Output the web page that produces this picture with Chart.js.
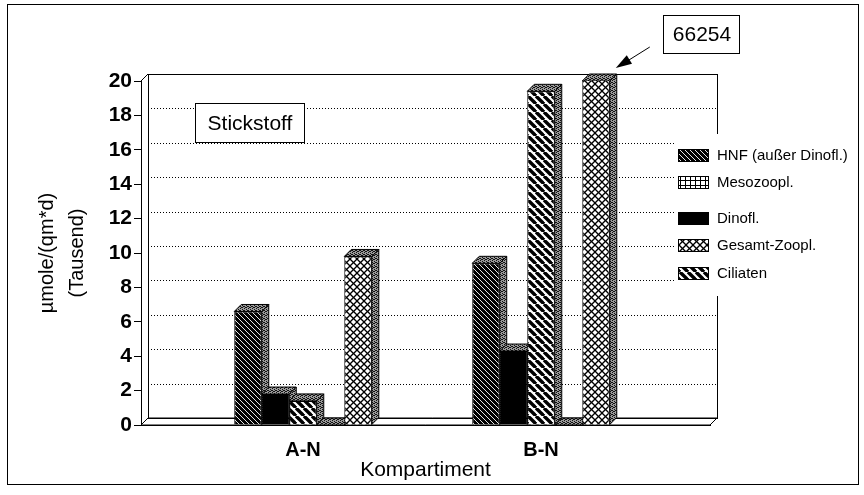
<!DOCTYPE html>
<html>
<head>
<meta charset="utf-8">
<script src="https://cdn.jsdelivr.net/npm/chart.js@4.4.1/dist/chart.umd.min.js"></script>
<style>
  html, body { margin: 0; padding: 0; background: #fff; }
</style>
</head>
<body>
<canvas id="stickstoffChart" width="864" height="495"></canvas>
<script>
// Werte in Tausend umole/(qm*d)
const kompartimente = ['A-N', 'B-N'];
const hnf = [6.6, 9.4];
const dinofl = [1.8, 4.3];
const ciliaten = [1.4, 19.4];
const mesozoopl = [0, 0];
const gesamtZoopl = [9.8, 66.254];
const yTicks = [0, 2, 4, 6, 8, 10, 12, 14, 16, 18, 20];
const legendOrder = ['HNF (außer Dinofl.)', 'Mesozoopl.', 'Dinofl.', 'Gesamt-Zoopl.', 'Ciliaten'];

const FONT = '"Liberation Sans", Arial, sans-serif';
const DEPTH = 7;

Chart.defaults.font.family = FONT;
Chart.defaults.color = '#000';

const canvas = document.getElementById('stickstoffChart');
const ctx = canvas.getContext('2d');

// Schraffuren
function makePattern(size, draw) {
    const c = document.createElement('canvas');
    c.width = size;
    c.height = size;
    draw(c.getContext('2d'), size);
    return ctx.createPattern(c, 'repeat');
}

function diagonals(g, s, dir) {
    for (let k = -1; k <= 1; k++) {
        g.beginPath();
        if (dir > 0) {
            g.moveTo(k * s, 0);
            g.lineTo(k * s + s, s);
        } else {
            g.moveTo(k * s + s, 0);
            g.lineTo(k * s, s);
        }
        g.stroke();
    }
}

const patHnf = makePattern(5, (g, s) => {
    g.fillStyle = '#000';
    g.fillRect(0, 0, s, s);
    g.strokeStyle = '#fff';
    g.lineWidth = 0.9;
    diagonals(g, s, 1);
});
const patCiliaten = makePattern(8, (g, s) => {
    g.fillStyle = '#fff';
    g.fillRect(0, 0, s, s);
    g.strokeStyle = '#000';
    g.lineWidth = 3.4;
    diagonals(g, s, 1);
});
const patMeso = makePattern(5, (g, s) => {
    g.fillStyle = '#fff';
    g.fillRect(0, 0, s, s);
    g.fillStyle = '#000';
    g.fillRect(0, 0, s, 1);
    g.fillRect(0, 0, 1, s);
});
const patGesamt = makePattern(7, (g, s) => {
    g.fillStyle = '#fff';
    g.fillRect(0, 0, s, s);
    g.strokeStyle = '#000';
    g.lineWidth = 1.3;
    diagonals(g, s, 1);
    diagonals(g, s, -1);
});
const patStipple = makePattern(4, (g, s) => {
    g.fillStyle = '#999';
    g.fillRect(0, 0, s, s);
    g.fillStyle = '#111';
    [[0, 0], [2, 1], [1, 3], [3, 2], [2, 3], [0, 2]].forEach(p => g.fillRect(p[0], p[1], 1, 1));
});

const toPoints = values => values.map((v, i) => ({ x: i, y: v }));

function poly(c, pts) {
    c.beginPath();
    c.moveTo(pts[0][0], pts[0][1]);
    pts.slice(1).forEach(p => c.lineTo(p[0], p[1]));
    c.closePath();
}

function line(c, x1, y1, x2, y2) {
    c.beginPath();
    c.moveTo(x1, y1);
    c.lineTo(x2, y2);
    c.stroke();
}

// 3D-Wand, Boden und Seitenflächen der Säulen
const wall3d = {
    id: 'wall3d',
    beforeDatasetsDraw(chart) {
        const c = chart.ctx;
        const a = chart.chartArea;
        const y = chart.scales.y;
        const D = DEPTH;
        c.save();
        c.strokeStyle = '#000';
        c.lineWidth = 1;
        c.setLineDash([1, 2]);
        yTicks.forEach(v => {
            if (v > y.min && v < y.max) {
                const py = Math.round(y.getPixelForValue(v) - D) + 0.5;
                line(c, a.left + D, py, a.right + D, py);
            }
        });
        c.setLineDash([]);
        c.strokeRect(Math.round(a.left + D) + 0.5, Math.round(a.top - D) + 0.5,
            Math.round(a.right - a.left), Math.round(a.bottom - a.top));
        // Boden
        poly(c, [[a.left, a.bottom], [a.left + D, a.bottom - D], [a.right + D, a.bottom - D], [a.right, a.bottom]]);
        c.stroke();
        line(c, a.left + 0.5, a.top, a.left + 0.5, a.bottom);
        line(c, a.left, a.top, a.left + D, a.top - D);

        chart.data.datasets.forEach((ds, i) => {
            chart.getDatasetMeta(i).data.forEach(bar => {
                const left = bar.x - bar.width / 2;
                const right = bar.x + bar.width / 2;
                const top = Math.max(bar.y, a.top);
                const base = bar.base;
                c.fillStyle = patStipple;
                poly(c, [[right, top], [right + D, top - D], [right + D, base - D], [right, base]]);
                c.fill();
                c.stroke();
                poly(c, [[left, top], [left + D, top - D], [right + D, top - D], [right, top]]);
                c.fill();
                c.stroke();
            });
        });
        c.restore();
    }
};

// Legende, Titelkasten, Anmerkung und Rahmen
const overlay = {
    id: 'overlay',
    afterDraw(chart) {
        const c = chart.ctx;
        const a = chart.chartArea;
        c.save();
        c.strokeStyle = '#000';
        c.lineWidth = 1;

        // Legende
        const rowsY = [155, 182, 218, 245, 273];
        c.fillStyle = '#fff';
        c.fillRect(676, 134, 180, 162);
        c.font = '15px ' + FONT;
        c.textBaseline = 'middle';
        legendOrder.forEach((label, i) => {
            const ds = chart.data.datasets.find(d => d.label === label);
            const yc = rowsY[i];
            c.fillStyle = ds.backgroundColor;
            c.fillRect(678, yc - 6, 31, 13);
            c.strokeRect(678.5, yc - 5.5, 30, 12);
            c.fillStyle = '#000';
            c.fillText(label, 717, yc + 1);
        });

        // Titelkasten
        c.fillStyle = '#fff';
        c.fillRect(195, 103, 109, 39);
        c.strokeRect(195.5, 103.5, 109, 39);
        c.fillStyle = '#000';
        c.font = '21px ' + FONT;
        c.textAlign = 'center';
        c.fillText('Stickstoff', 250, 124);

        // Wert der abgeschnittenen Säule
        const gMeta = chart.getDatasetMeta(chart.data.datasets.findIndex(d => d.label === 'Gesamt-Zoopl.'));
        const bar = gMeta.data[1];
        const tipX = bar.x + bar.width / 2 + 6;
        const tipY = a.top - DEPTH - 6;
        const tailX = tipX + 34;
        const tailY = tipY - 21;
        line(c, tailX, tailY, tipX + 10, tipY - 6);
        const ang = Math.atan2(tipY - tailY, tipX - tailX);
        poly(c, [
            [tipX, tipY],
            [tipX - 16 * Math.cos(ang) + 5 * Math.sin(ang), tipY - 16 * Math.sin(ang) - 5 * Math.cos(ang)],
            [tipX - 16 * Math.cos(ang) - 5 * Math.sin(ang), tipY - 16 * Math.sin(ang) + 5 * Math.cos(ang)]
        ]);
        c.fill();
        c.fillStyle = '#fff';
        c.fillRect(663, 15, 76, 38);
        c.strokeRect(663.5, 15.5, 76, 38);
        c.fillStyle = '#000';
        c.fillText(String(Math.round(gesamtZoopl[1] * 1000)), 702, 35);

        // Rahmen
        c.strokeRect(7.5, 4.5, 851, 480);
        c.restore();
    }
};

new Chart(ctx, {
    type: 'bar',
    data: {
        datasets: [
            { label: 'HNF (außer Dinofl.)', data: toPoints(hnf), backgroundColor: patHnf },
            { label: 'Dinofl.', data: toPoints(dinofl), backgroundColor: '#000' },
            { label: 'Ciliaten', data: toPoints(ciliaten), backgroundColor: patCiliaten },
            { label: 'Mesozoopl.', data: toPoints(mesozoopl), backgroundColor: patMeso },
            { label: 'Gesamt-Zoopl.', data: toPoints(gesamtZoopl), backgroundColor: patGesamt }
        ]
    },
    options: {
        responsive: false,
        animation: false,
        layout: { padding: { left: 8, right: 154, top: 81, bottom: 8 } },
        datasets: {
            bar: { categoryPercentage: 0.578, barPercentage: 1, borderColor: '#000', borderWidth: 1 }
        },
        plugins: {
            legend: { display: false },
            tooltip: { enabled: false }
        },
        scales: {
            x: {
                type: 'linear',
                offset: false,
                bounds: 'data',
                min: -0.6807,
                max: 1.7101,
                afterBuildTicks: scale => { scale.ticks = kompartimente.map((k, i) => ({ value: i })); },
                afterFit: scale => { scale.height = 62; },
                grid: { display: false, offset: false },
                border: { display: true, color: '#000' },
                ticks: {
                    callback: v => kompartimente[v],
                    font: { size: 20, weight: 'bold' },
                    padding: 5,
                    maxRotation: 0
                },
                title: {
                    display: true,
                    text: 'Kompartiment',
                    font: { size: 21 },
                    padding: { top: 0, bottom: 4 }
                }
            },
            y: {
                min: 0,
                max: 20,
                afterBuildTicks: scale => { scale.ticks = yTicks.map(v => ({ value: v })); },
                afterFit: scale => { scale.width = 133; },
                grid: { display: true, drawOnChartArea: false, drawTicks: true, tickLength: 7, color: '#000' },
                border: { display: true, color: '#000' },
                ticks: {
                    font: { size: 21, weight: 'bold' },
                    padding: 2
                },
                title: {
                    display: true,
                    text: ['µmole/(qm*d)', '(Tausend)'],
                    font: { size: 20, lineHeight: 1.5 },
                    padding: { top: 24, bottom: 0 }
                }
            }
        }
    },
    plugins: [wall3d, overlay]
});
</script>
</body>
</html>
